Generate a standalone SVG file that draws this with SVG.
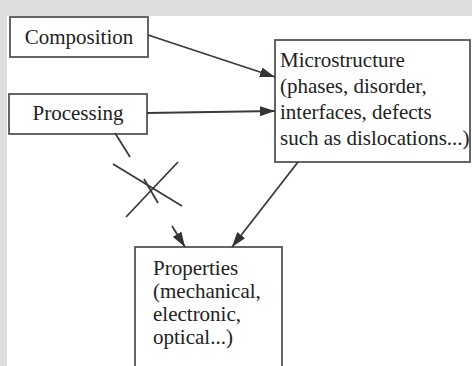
<svg xmlns="http://www.w3.org/2000/svg" width="472" height="366" viewBox="0 0 472 366">
<defs>
<marker id="arr" markerUnits="userSpaceOnUse" markerWidth="15" markerHeight="10" refX="15" refY="5" orient="auto">
<path d="M0,0 L15,5 L0,10 z" fill="#333"/>
</marker>
<style>
.box{fill:#fff;stroke:#555;stroke-width:1.8}
.t{font-family:"Liberation Serif","Times New Roman",serif;font-size:21px;fill:#222}
.c{stroke:#3a3a3a;stroke-width:1.8;fill:none}
</style>
</defs>
<rect x="0" y="0" width="472" height="366" fill="#dcdddf"/>
<rect x="7" y="16" width="465" height="350" fill="#fff"/>
<g id="composition">
<rect class="box" x="10" y="17" width="138" height="40"/>
<text class="t" x="79" y="44" text-anchor="middle">Composition</text>
</g>
<g id="processing">
<rect class="box" x="9" y="94" width="138" height="40"/>
<text class="t" x="78" y="120" text-anchor="middle">Processing</text>
</g>
<g id="microstructure">
<rect class="box" x="275" y="40" width="195" height="122"/>
<text class="t" x="280" y="67">Microstructure</text>
<text class="t" x="280" y="93">(phases, disorder,</text>
<text class="t" x="280" y="119">interfaces, defects</text>
<text class="t" x="280" y="145">such as dislocations...)</text>
</g>
<g id="properties">
<rect class="box" x="135" y="247" width="147" height="130"/>
<text class="t" x="153" y="275">Properties</text>
<text class="t" x="153" y="298">(mechanical,</text>
<text class="t" x="153" y="321">electronic,</text>
<text class="t" x="153" y="344">optical...)</text>
</g>
<g id="connectors">
<line class="c" x1="148" y1="35" x2="275" y2="77" marker-end="url(#arr)"/>
<line class="c" x1="147" y1="113" x2="275" y2="111" marker-end="url(#arr)"/>
<line class="c" x1="298" y1="162" x2="232" y2="247" marker-end="url(#arr)"/>
<line class="c" x1="115" y1="133" x2="130" y2="157"/>
<line class="c" x1="144" y1="179" x2="158" y2="203"/>
<line class="c" x1="172" y1="226" x2="185" y2="247" marker-end="url(#arr)"/>
<line class="c" x1="113" y1="164" x2="182" y2="206"/>
<line class="c" x1="126" y1="217" x2="178" y2="162"/>
</g>
</svg>
